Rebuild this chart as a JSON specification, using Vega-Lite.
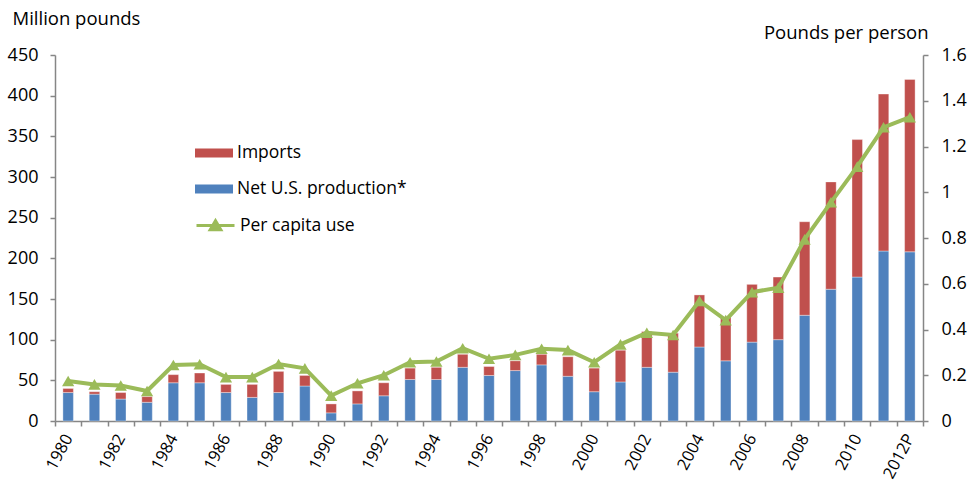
{
  "$schema": "https://vega.github.io/schema/vega-lite/v6.json",
  "width": 868,
  "height": 366,
  "autosize": {"type": "none"},
  "padding": {"left": 55, "top": 55, "right": 46, "bottom": 64},
  "background": "#ffffff",
  "config": {
    "font": "Open Sans",
    "view": {"stroke": null},
    "axis": {
      "labelFont": "Open Sans",
      "titleFont": "Open Sans",
      "labelFontSize": 18,
      "labelColor": "#000000",
      "domainColor": "#868686",
      "tickColor": "#868686",
      "domainWidth": 1.5,
      "tickWidth": 1.5,
      "grid": false,
      "titleFontWeight": "normal",
      "titleFontSize": 18.5,
      "titleColor": "#000000"
    },
    "legend": {"labelFont": "Open Sans", "labelFontSize": 17.5, "labelColor": "#000000", "labelLimit": 400}
  },
  "datasets": {
    "bars": [
      {"year": "1980", "type": "Net U.S. production*", "value": 35}, {"year": "1980", "type": "Imports", "value": 5},
      {"year": "1981", "type": "Net U.S. production*", "value": 33}, {"year": "1981", "type": "Imports", "value": 3},
      {"year": "1982", "type": "Net U.S. production*", "value": 27}, {"year": "1982", "type": "Imports", "value": 8},
      {"year": "1983", "type": "Net U.S. production*", "value": 23}, {"year": "1983", "type": "Imports", "value": 7},
      {"year": "1984", "type": "Net U.S. production*", "value": 47}, {"year": "1984", "type": "Imports", "value": 10},
      {"year": "1985", "type": "Net U.S. production*", "value": 47}, {"year": "1985", "type": "Imports", "value": 12},
      {"year": "1986", "type": "Net U.S. production*", "value": 35}, {"year": "1986", "type": "Imports", "value": 10},
      {"year": "1987", "type": "Net U.S. production*", "value": 29}, {"year": "1987", "type": "Imports", "value": 16},
      {"year": "1988", "type": "Net U.S. production*", "value": 35}, {"year": "1988", "type": "Imports", "value": 26},
      {"year": "1989", "type": "Net U.S. production*", "value": 43}, {"year": "1989", "type": "Imports", "value": 13},
      {"year": "1990", "type": "Net U.S. production*", "value": 10}, {"year": "1990", "type": "Imports", "value": 11},
      {"year": "1991", "type": "Net U.S. production*", "value": 21}, {"year": "1991", "type": "Imports", "value": 16},
      {"year": "1992", "type": "Net U.S. production*", "value": 31}, {"year": "1992", "type": "Imports", "value": 16},
      {"year": "1993", "type": "Net U.S. production*", "value": 51}, {"year": "1993", "type": "Imports", "value": 14},
      {"year": "1994", "type": "Net U.S. production*", "value": 51}, {"year": "1994", "type": "Imports", "value": 15},
      {"year": "1995", "type": "Net U.S. production*", "value": 66}, {"year": "1995", "type": "Imports", "value": 16},
      {"year": "1996", "type": "Net U.S. production*", "value": 56}, {"year": "1996", "type": "Imports", "value": 11},
      {"year": "1997", "type": "Net U.S. production*", "value": 62}, {"year": "1997", "type": "Imports", "value": 12},
      {"year": "1998", "type": "Net U.S. production*", "value": 69}, {"year": "1998", "type": "Imports", "value": 13},
      {"year": "1999", "type": "Net U.S. production*", "value": 55}, {"year": "1999", "type": "Imports", "value": 24},
      {"year": "2000", "type": "Net U.S. production*", "value": 36}, {"year": "2000", "type": "Imports", "value": 29},
      {"year": "2001", "type": "Net U.S. production*", "value": 48}, {"year": "2001", "type": "Imports", "value": 39},
      {"year": "2002", "type": "Net U.S. production*", "value": 66}, {"year": "2002", "type": "Imports", "value": 44},
      {"year": "2003", "type": "Net U.S. production*", "value": 60}, {"year": "2003", "type": "Imports", "value": 48},
      {"year": "2004", "type": "Net U.S. production*", "value": 91}, {"year": "2004", "type": "Imports", "value": 64},
      {"year": "2005", "type": "Net U.S. production*", "value": 74}, {"year": "2005", "type": "Imports", "value": 54},
      {"year": "2006", "type": "Net U.S. production*", "value": 97}, {"year": "2006", "type": "Imports", "value": 71},
      {"year": "2007", "type": "Net U.S. production*", "value": 100}, {"year": "2007", "type": "Imports", "value": 77},
      {"year": "2008", "type": "Net U.S. production*", "value": 130}, {"year": "2008", "type": "Imports", "value": 115},
      {"year": "2009", "type": "Net U.S. production*", "value": 162}, {"year": "2009", "type": "Imports", "value": 132},
      {"year": "2010", "type": "Net U.S. production*", "value": 177}, {"year": "2010", "type": "Imports", "value": 169},
      {"year": "2011", "type": "Net U.S. production*", "value": 209}, {"year": "2011", "type": "Imports", "value": 193},
      {"year": "2012P", "type": "Net U.S. production*", "value": 208}, {"year": "2012P", "type": "Imports", "value": 212}
    ],
    "pc": [
      {"year": "1980", "percap": 0.175}, {"year": "1981", "percap": 0.16}, {"year": "1982", "percap": 0.155},
      {"year": "1983", "percap": 0.131}, {"year": "1984", "percap": 0.245}, {"year": "1985", "percap": 0.248},
      {"year": "1986", "percap": 0.192}, {"year": "1987", "percap": 0.192}, {"year": "1988", "percap": 0.249},
      {"year": "1989", "percap": 0.23}, {"year": "1990", "percap": 0.111}, {"year": "1991", "percap": 0.165},
      {"year": "1992", "percap": 0.2}, {"year": "1993", "percap": 0.257}, {"year": "1994", "percap": 0.26},
      {"year": "1995", "percap": 0.318}, {"year": "1996", "percap": 0.272}, {"year": "1997", "percap": 0.289},
      {"year": "1998", "percap": 0.316}, {"year": "1999", "percap": 0.31}, {"year": "2000", "percap": 0.257},
      {"year": "2001", "percap": 0.335}, {"year": "2002", "percap": 0.386}, {"year": "2003", "percap": 0.376},
      {"year": "2004", "percap": 0.525}, {"year": "2005", "percap": 0.441}, {"year": "2006", "percap": 0.563},
      {"year": "2007", "percap": 0.583}, {"year": "2008", "percap": 0.794}, {"year": "2009", "percap": 0.956},
      {"year": "2010", "percap": 1.112}, {"year": "2011", "percap": 1.284}, {"year": "2012P", "percap": 1.328}
    ]
  },
  "layer": [
    {
      "data": {"name": "bars"},
      "mark": {"type": "bar", "width": 10.5, "stroke": "#ffffff", "strokeWidth": 0.6, "strokeOpacity": 0.6},
      "encoding": {
        "x": {
          "field": "year",
          "type": "ordinal",
          "sort": null,
          "scale": {"paddingInner": 0, "paddingOuter": 0},
          "axis": {
            "title": null,
            "tickBand": "extent",
            "tickSize": 5,
            "labelAngle": -62,
            "labelPadding": 9,
            "labelFontSize": 16.5,
            "labelOverlap": false,
            "labelExpr": "toNumber(substring(datum.value, 0, 4)) % 2 == 0 ? datum.value : ''"
          }
        },
        "y": {
          "field": "value",
          "type": "quantitative",
          "stack": "zero",
          "scale": {"domain": [0, 450]},
          "axis": {
            "values": [0, 50, 100, 150, 200, 250, 300, 350, 400, 450],
            "tickSize": 5,
            "labelPadding": 12,
            "title": "Million pounds",
            "titleAngle": 0,
            "titleAlign": "left",
            "titleBaseline": "middle",
            "titleX": -43,
            "titleY": -37
          }
        },
        "color": {
          "field": "type",
          "type": "nominal",
          "scale": {"domain": ["Imports", "Net U.S. production*"], "range": ["#C0504D", "#4F81BD"]},
          "legend": {
            "title": null,
            "orient": "none",
            "legendX": 140,
            "legendY": 79,
            "symbolType": "M-1,-0.24L1,-0.24L1,0.24L-1,0.24Z",
            "symbolSize": 1444,
            "symbolStrokeWidth": 0,
            "labelOffset": 4,
            "rowPadding": 8
          }
        },
        "order": {"field": "type", "sort": "descending"}
      }
    },
    {
      "data": {"name": "pc"},
      "mark": {"type": "line", "strokeWidth": 4},
      "encoding": {
        "x": {"field": "year", "type": "ordinal", "sort": null},
        "y": {
          "field": "percap",
          "type": "quantitative",
          "scale": {"domain": [0, 1.6]},
          "axis": {
            "orient": "right",
            "values": [0, 0.2, 0.4, 0.6, 0.8, 1, 1.2, 1.4, 1.6],
            "format": "~g",
            "tickSize": 5,
            "labelPadding": 13,
            "title": "Pounds per person",
            "titleAngle": 0,
            "titleAlign": "right",
            "titleBaseline": "middle",
            "titleX": 5,
            "titleY": -23
          }
        },
        "stroke": {
          "datum": "Per capita use",
          "type": "nominal",
          "scale": {"range": ["#9BBB59"]},
          "legend": {
            "title": null,
            "orient": "none",
            "legendX": 140,
            "legendY": 150,
            "symbolType": "M-1,0L1,0M-0.28,0.22L0,-0.25L0.28,0.22Z",
            "symbolSize": 1444,
            "symbolStrokeWidth": 3,
            "symbolFillColor": "#9BBB59",
            "labelOffset": 4
          }
        }
      }
    },
    {
      "data": {"name": "pc"},
      "mark": {"type": "point", "shape": "triangle-up", "filled": true, "color": "#9BBB59", "size": 150, "opacity": 1},
      "encoding": {
        "x": {"field": "year", "type": "ordinal", "sort": null},
        "y": {"field": "percap", "type": "quantitative", "scale": {"domain": [0, 1.6]}, "axis": null}
      }
    }
  ],
  "resolve": {"scale": {"y": "independent"}}
}
